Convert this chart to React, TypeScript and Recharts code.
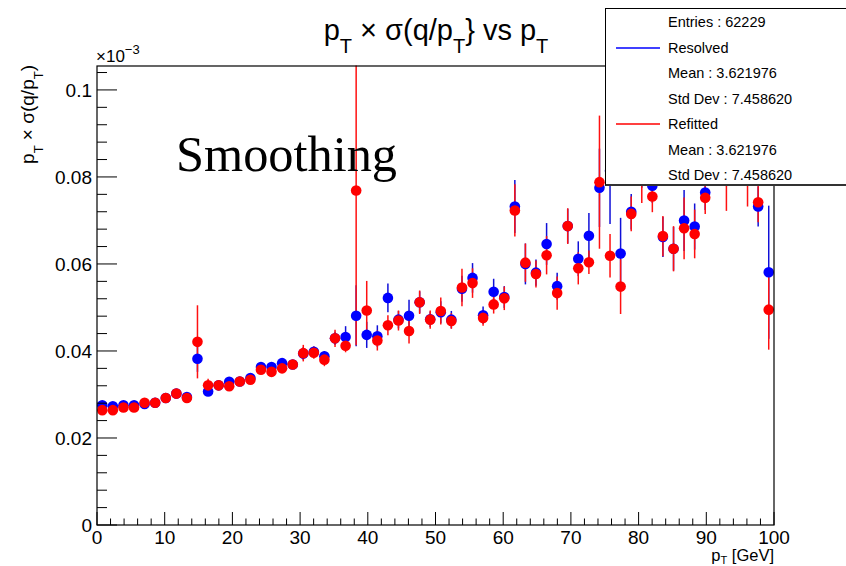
import React from "react";
import { ScatterChart, Scatter, XAxis, YAxis, ErrorBar } from "recharts";

// bin centres, 64 bins over 0..100 GeV
const binCenters = [
  0.78, 2.34, 3.91, 5.47, 7.03, 8.59, 10.16, 11.72, 13.28, 14.84, 16.41, 17.97, 19.53, 21.09, 22.66, 24.22,
  25.78, 27.34, 28.91, 30.47, 32.03, 33.59, 35.16, 36.72, 38.28, 39.84, 41.41, 42.97, 44.53, 46.09, 47.66, 49.22,
  50.78, 52.34, 53.91, 55.47, 57.03, 58.59, 60.16, 61.72, 63.28, 64.84, 66.41, 67.97, 69.53, 71.09, 72.66, 74.22,
  75.78, 77.34, 78.91, 80.47, 82.03, 83.59, 85.16, 86.72, 88.28, 89.84, 91.41, 92.97, 94.53, 96.09, 97.66, 99.22,
];

const resolvedVals = [
  0.0275, 0.0273, 0.0275, 0.0275, 0.0278, 0.0281, 0.0292, 0.0302, 0.0294, 0.0382, 0.0307, 0.0321, 0.0329, 0.033, 0.0338, 0.0363,
  0.0363, 0.0372, 0.0369, 0.0394, 0.0398, 0.0388, 0.0429, 0.0432, 0.0481, 0.0437, 0.0434, 0.0522, 0.0472, 0.0481, 0.0512, 0.0473,
  0.0489, 0.0472, 0.0543, 0.0568, 0.0482, 0.0536, 0.0524, 0.0732, 0.06, 0.058, 0.0646, 0.0549, 0.0687, 0.0612, 0.0665, 0.0775,
  0.0814, 0.0624, 0.072, 0.0825, 0.078, 0.0662, 0.0635, 0.07, 0.0686, 0.0764, 0.086, 0.0825, 0.087, 0.083, 0.0732, 0.0581,
];
const resolvedErrs = [
  0.0005, 0.0005, 0.0005, 0.0005, 0.0005, 0.0005, 0.0005, 0.0005, 0.0005, 0.003, 0.0008, 0.0006, 0.0006, 0.0006, 0.0006, 0.001,
  0.0008, 0.0009, 0.0008, 0.0015, 0.0012, 0.0012, 0.0015, 0.0025, 0.007, 0.003, 0.0025, 0.0033, 0.002, 0.0037, 0.0025, 0.0018,
  0.0025, 0.002, 0.003, 0.0034, 0.002, 0.003, 0.0025, 0.0061, 0.0047, 0.003, 0.0048, 0.0031, 0.004, 0.004, 0.0052, 0.009,
  0.0122, 0.0082, 0.0041, 0.005, 0.004, 0.0046, 0.005, 0.007, 0.0053, 0.004, 0.005, 0.004, 0.005, 0.004, 0.0046, 0.0153,
];

const refittedVals = [
  0.0264, 0.0264, 0.027, 0.027, 0.0281, 0.0281, 0.0292, 0.0302, 0.0292, 0.0421, 0.0321, 0.0321, 0.0319, 0.033, 0.0334, 0.0357,
  0.0352, 0.036, 0.0369, 0.0395, 0.0396, 0.038, 0.0429, 0.0412, 0.0769, 0.0493, 0.0424, 0.0459, 0.047, 0.0446, 0.0512, 0.0472,
  0.0492, 0.0469, 0.0546, 0.0556, 0.0476, 0.0507, 0.0521, 0.0723, 0.0603, 0.0577, 0.062, 0.0533, 0.0687, 0.059, 0.0604, 0.0788,
  0.0619, 0.0548, 0.0715, 0.081, 0.0755, 0.0664, 0.0635, 0.0682, 0.0669, 0.0752, 0.086, 0.0791, 0.087, 0.0796, 0.0742, 0.0495,
];
const refittedErrs = [
  0.0005, 0.0005, 0.0005, 0.0005, 0.0005, 0.0005, 0.0005, 0.0005, 0.0005, 0.0084, 0.0015, 0.0007, 0.0007, 0.0007, 0.0007, 0.001,
  0.0008, 0.001, 0.0008, 0.0019, 0.0014, 0.0015, 0.002, 0.0015, 0.0356, 0.0068, 0.0023, 0.0023, 0.0023, 0.0029, 0.0027, 0.0021,
  0.0031, 0.0018, 0.0043, 0.0034, 0.0018, 0.0021, 0.0027, 0.006, 0.0044, 0.0031, 0.0044, 0.0038, 0.0041, 0.0037, 0.0027, 0.0153,
  0.005, 0.0063, 0.004, 0.007, 0.0036, 0.0046, 0.0052, 0.0071, 0.0056, 0.0037, 0.006, 0.0069, 0.006, 0.0064, 0.0046, 0.0092,
];

const xTicks = [
  0, 2, 4, 6, 8, 10, 12, 14, 16, 18, 20, 22, 24, 26, 28, 30, 32, 34, 36, 38, 40, 42, 44, 46, 48, 50,
  52, 54, 56, 58, 60, 62, 64, 66, 68, 70, 72, 74, 76, 78, 80, 82, 84, 86, 88, 90, 92, 94, 96, 98, 100,
];
const yTicks = [
  0, 0.004, 0.008, 0.012, 0.016, 0.02, 0.024, 0.028, 0.032, 0.036, 0.04, 0.044, 0.048, 0.052,
  0.056, 0.06, 0.064, 0.068, 0.072, 0.076, 0.08, 0.084, 0.088, 0.092, 0.096, 0.1, 0.104,
];
const yTickLabels: Record<string, string> = { "0": "0", "0.02": "0.02", "0.04": "0.04", "0.06": "0.06", "0.08": "0.08", "0.1": "0.1" };

const statsRows = [
  { text: "Entries : 62229" },
  { text: "Resolved", color: "#0000ff" },
  { text: "Mean : 3.621976" },
  { text: "Std Dev : 7.458620" },
  { text: "Refitted", color: "#ff0000" },
  { text: "Mean : 3.621976" },
  { text: "Std Dev : 7.458620" },
];

const resolved = binCenters.map((x, i) => ({ x, y: resolvedVals[i], err: resolvedErrs[i] }));
const refitted = binCenters.map((x, i) => ({ x, y: refittedVals[i], err: refittedErrs[i] }));

const FONT = '"Liberation Sans", Arial, Helvetica, sans-serif';
const W = 846;
const H = 566;
const PL = 97;
const PR = 774;
const PT = 66;
const PB = 525;

function XTick(props: any) {
  const { x, y, payload } = props;
  const v = payload.value;
  const major = v % 10 === 0;
  return (
    <g>
      <line x1={x} x2={x} y1={y} y2={y - (major ? 13 : 6.5)} stroke="#000" strokeWidth={1} />
      {major && (
        <text x={x} y={y + 19} textAnchor="middle" fontSize={19} fontFamily={FONT} fill="#000">
          {v}
        </text>
      )}
    </g>
  );
}

function YTick(props: any) {
  const { x, y, payload } = props;
  const key = String(Math.round(payload.value * 1000) / 1000);
  const label = yTickLabels[key];
  return (
    <g>
      <line x1={x} x2={x + (label ? 20 : 10)} y1={y} y2={y} stroke="#000" strokeWidth={1} />
      {label && (
        <text x={x - 5} y={y} dy="0.36em" textAnchor="end" fontSize={19} fontFamily={FONT} fill="#000">
          {label}
        </text>
      )}
    </g>
  );
}

const dot = (color: string) => (p: any) => <circle cx={p.cx} cy={p.cy} r={5.3} fill={color} />;

export default function App() {
  return (
    <div style={{ position: "absolute", left: 0, top: 0, width: W, height: H, background: "#fff" }}>
      <ScatterChart width={W} height={H} margin={{ top: PT, right: W - PR, bottom: 0, left: 0 }}>
        <XAxis
          type="number"
          dataKey="x"
          domain={[0, 100]}
          ticks={xTicks}
          interval={0}
          height={H - PB}
          axisLine={false}
          tickLine={false}
          tickSize={0}
          tickMargin={0}
          tick={<XTick />}
          allowDataOverflow
        />
        <YAxis
          type="number"
          dataKey="y"
          domain={[0, 0.1055]}
          ticks={yTicks}
          interval={0}
          width={PL}
          axisLine={false}
          tickLine={false}
          tickSize={0}
          tickMargin={0}
          tick={<YTick />}
          allowDataOverflow
        />
        <Scatter data={resolved} shape={dot("#0000ff")} isAnimationActive={false}>
          <ErrorBar dataKey="err" direction="y" width={0} stroke="#1010d8" strokeWidth={1.5} isAnimationActive={false} />
        </Scatter>
        <Scatter data={refitted} shape={dot("#ff0000")} isAnimationActive={false}>
          <ErrorBar dataKey="err" direction="y" width={0} stroke="#ff1010" strokeWidth={1.5} isAnimationActive={false} />
        </Scatter>
      </ScatterChart>

      <svg width={W} height={H} style={{ position: "absolute", left: 0, top: 0, pointerEvents: "none" }}>
        {/* keep error bars inside the frame */}
        <rect x={PL - 2} y={0} width={PR - PL + 4} height={PT - 0.5} fill="#fff" />
        <rect x={PL} y={PT} width={PR - PL} height={PB - PT} fill="none" stroke="#000" strokeWidth={1.2} />
        <text x={436} y={40} textAnchor="middle" fontSize={29} fontFamily={FONT} fill="#000">
          p<tspan dy={13} fontSize={20}>T</tspan>
          <tspan dy={-13}>{" × σ(q/p"}</tspan>
          <tspan dy={13} fontSize={20}>T</tspan>
          <tspan dy={-13}>{"} vs p"}</tspan>
          <tspan dy={13} fontSize={20}>T</tspan>
        </text>
        <text x={96} y={62} fontSize={17} fontFamily={FONT} fill="#000">
          ×10<tspan dy={-8} fontSize={13}>−3</tspan>
        </text>
        <text
          x={34}
          y={65}
          transform="rotate(-90 34 65)"
          textAnchor="end"
          fontSize={19}
          fontFamily={FONT}
          fill="#000"
        >
          p<tspan dy={9} fontSize={13}>T</tspan>
          <tspan dy={-9}>{" × σ(q/p"}</tspan>
          <tspan dy={9} fontSize={13}>T</tspan>
          <tspan dy={-9}>)</tspan>
        </text>
        <text x={PR} y={561} textAnchor="end" fontSize={16.5} fontFamily={FONT} fill="#000">
          p<tspan dy={3} fontSize={11}>T</tspan>
          <tspan dy={-3}>{" [GeV]"}</tspan>
        </text>
        <text
          x={176}
          y={171}
          fontSize={50}
          fontFamily='"Liberation Serif", "DejaVu Serif", serif'
          textLength={221}
          lengthAdjust="spacingAndGlyphs"
          fill="#000"
        >
          Smoothing
        </text>
      </svg>

      <div
        style={{
          position: "absolute",
          left: 605,
          top: 8,
          width: 260,
          height: 178,
          background: "#fff",
          border: "1px solid #000",
          borderBottom: "2px solid #333",
          boxSizing: "border-box",
          fontFamily: FONT,
          fontSize: 14.5,
          color: "#000",
        }}
      >
        {statsRows.map((r, i) => (
          <div
            key={i}
            style={{ position: "absolute", left: 0, top: 13 + i * 25.5 - 9, height: 18, lineHeight: "18px", width: 260 }}
          >
            {r.color && (
              <svg width={50} height={4} style={{ position: "absolute", left: 9, top: 7 }}>
                <line x1={1} x2={45} y1={2} y2={2} stroke={r.color} strokeWidth={1.5} />
              </svg>
            )}
            <span style={{ position: "absolute", left: 62, top: 0, whiteSpace: "nowrap" }}>{r.text}</span>
          </div>
        ))}
      </div>
    </div>
  );
}
